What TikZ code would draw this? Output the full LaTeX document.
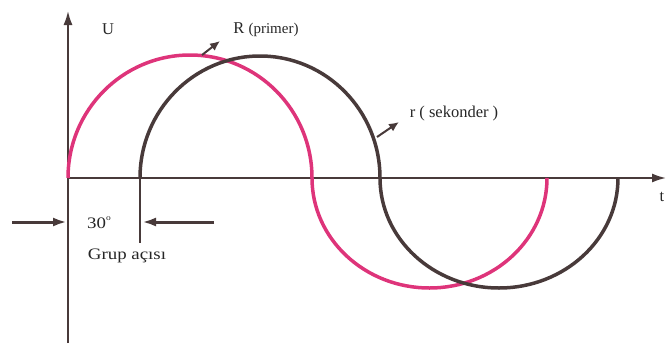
\documentclass[tikz,border=0pt]{standalone}
\usepackage{fontspec}
\setmainfont{Liberation Serif}
\newfontfamily\widefont[FakeStretch=1.18]{Liberation Serif}
\usetikzlibrary{arrows.meta}
\definecolor{dk}{RGB}{72,58,58}
\definecolor{pk}{RGB}{222,52,122}
\begin{document}
\begin{tikzpicture}[x=1pt,y=-1pt,
  axis/.style={draw=dk,line width=2.8pt,-{Latex[length=15pt,width=9pt]}},
  wave/.style={line width=3.5pt},
  dimarrow/.style={draw=dk,line width=3pt,-{Latex[length=14pt,width=9pt]}},
  ptr/.style={draw=dk,line width=2pt,-{Latex[length=10pt,width=9pt]}},
  lbl/.style={inner sep=0pt,text=black!85,font=\fontsize{16.5}{18}\selectfont},
  lbls/.style={inner sep=0pt,text=black!85,font=\widefont\fontsize{16}{18}\selectfont}]
\useasboundingbox (0,0) rectangle (669,351);
% axes
\coordinate (O) at (68,178);
\coordinate (ytop) at (68,10);
\coordinate (ybot) at (68,343);
\coordinate (xend) at (667,178);
\draw[axis] (ybot) -- (ytop);
\draw[axis] (O) -- (xend);
% pink wave (primer)
\draw[wave,pk] (68,178) arc[start angle=180,end angle=360,x radius=122,y radius=123]
  arc[start angle=180,end angle=0,x radius=117.5,y radius=110];
% dark wave (sekonder)
\draw[wave,dk] (140,178) arc[start angle=180,end angle=360,x radius=120,y radius=122]
  arc[start angle=180,end angle=0,x radius=119,y radius=110];
% marker line
\coordinate (m1) at (140,178);
\coordinate (m2) at (140,243);
\draw[dk,line width=2.4pt] (m1) -- (m2);
% dimension arrows
\coordinate (la) at (12,222);
\coordinate (lb) at (67,222);
\coordinate (ra) at (214,222);
\coordinate (rb) at (142,222);
\draw[dimarrow] (la) -- (lb);
\draw[dimarrow] (ra) -- (rb);
% pointer arrows
\coordinate (p1) at (202,55);
\coordinate (p2) at (220,41);
\draw[ptr] (p1) -- (p2);
\coordinate (q1) at (377,137);
\coordinate (q2) at (399,122);
\draw[ptr] (q1) -- (q2);
% labels
\node[lbl] (U) at (108,29) {U};
\node[lbl] (R) at (266,30) {R {\fontsize{15}{17}\selectfont(primer)}};
\node[lbl] (r) at (454,114) {r ( sekonder )};
\node[lbl] (t) at (662,197) {t};
\node[lbls] (deg) at (99,223) {30\raisebox{1.1ex}{\fontsize{8}{9}\selectfont o}};
\node[lbls] (grup) at (127,256) {Grup açısı};
\end{tikzpicture}
\end{document}
